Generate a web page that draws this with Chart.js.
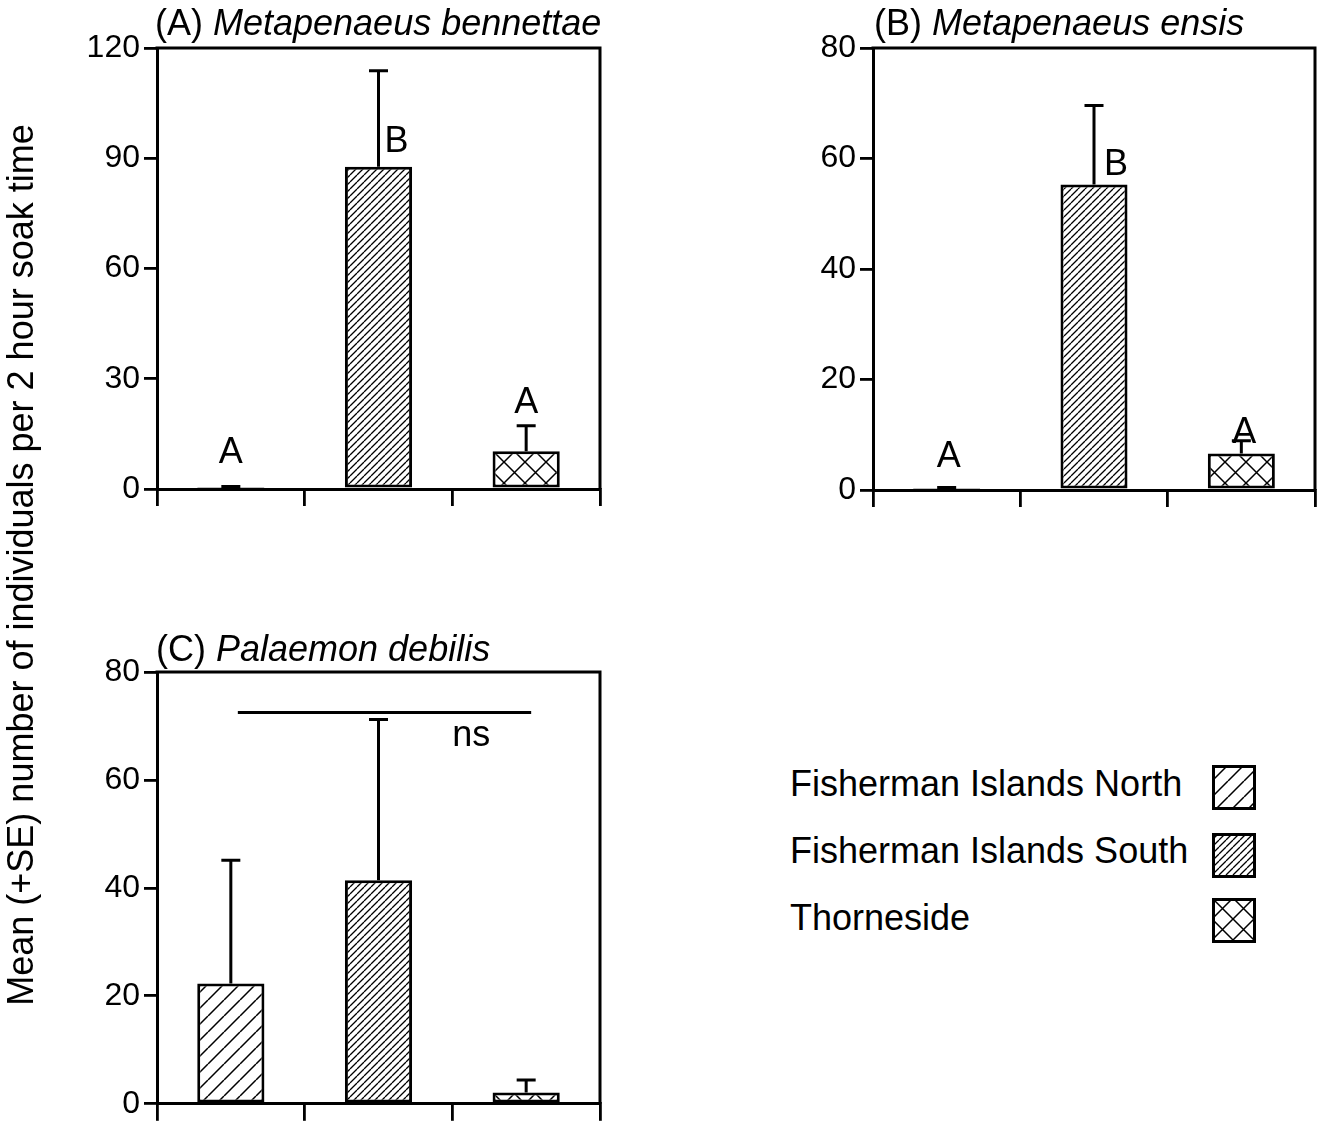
<!DOCTYPE html>
<html>
<head>
<meta charset="utf-8">
<script src="https://cdn.jsdelivr.net/npm/chart.js@4/dist/chart.umd.min.js"></script>
<style>
  html, body { margin: 0; padding: 0; background: #fff; }
  #fig { position: relative; width: 1322px; height: 1127px; overflow: hidden; background: #fff;
         font-family: 'Liberation Sans', Arial, Helvetica, sans-serif; color: #000; }
  #fig canvas.chart { position: absolute; }
  .txt { position: absolute; font-size: 36px; line-height: 36px; white-space: nowrap; }
  .ytitle { position: absolute; width: 900px; height: 36px; font-size: 36px; line-height: 36px;
            text-align: center; white-space: nowrap; transform: rotate(-90deg); transform-origin: 50% 50%; }
  .patch { position: absolute; }
</style>
</head>
<body>
<div id="fig">
  <canvas class="chart" id="chartA" width="620" height="530" style="left:0px;top:0px"></canvas>
  <canvas class="chart" id="chartB" width="622" height="530" style="left:700px;top:0px"></canvas>
  <canvas class="chart" id="chartC" width="620" height="527" style="left:0px;top:600px"></canvas>

  <div class="txt" style="left:155px;top:5px">(A) <i>Metapenaeus bennettae</i></div>
  <div class="txt" style="left:874px;top:5px">(B) <i>Metapenaeus ensis</i></div>
  <div class="txt" style="left:156px;top:631px">(C) <i>Palaemon debilis</i></div>

  <div class="ytitle" style="left:-429px;top:547px">Mean (+SE) number of individuals per 2 hour soak time</div>

  <div id="legend"></div>
</div>

<script>
// Sites (x categories, shared by all three panels)
const sites = ['Fisherman Islands North', 'Fisherman Islands South', 'Thorneside'];

// (A) Metapenaeus bennettae
const bennettaeMean = [0.3, 87.7, 10.3];
const bennettaeSE = [0.4, 26.1, 6.9];
const bennettaeLetters = ['A', 'B', 'A'];
const bennettaeTicks = [0, 30, 60, 90, 120];

// (B) Metapenaeus ensis
const ensisMean = [0.2, 55.3, 6.6];
const ensisSE = [0.25, 14.3, 2.3];
const ensisLetters = ['A', 'B', 'A'];
const ensisTicks = [0, 20, 40, 60, 80];

// (C) Palaemon debilis
const debilisMean = [22.3, 41.4, 2.1];
const debilisSE = [22.8, 29.8, 2.3];
const debilisNote = 'ns';
const debilisNsLevel = 72.5;
const debilisTicks = [0, 20, 40, 60, 80];

const FONT = "'Liberation Sans', Arial, Helvetica, sans-serif";

// Hatch fills: sparse '/', dense '/', and diagonal cross-hatch
function makeTile(kind) {
  const s = kind === 'sparse' ? 16 : kind === 'dense' ? 7 : 21;
  const c = document.createElement('canvas');
  c.width = s; c.height = s;
  const g = c.getContext('2d');
  g.fillStyle = '#fff';
  g.fillRect(0, 0, s, s);
  g.strokeStyle = '#000';
  g.lineWidth = kind === 'dense' ? 1.3 : 1.5;
  g.beginPath();
  for (const k of [-s, 0, s]) { g.moveTo(k, s); g.lineTo(k + s, 0); }
  if (kind === 'cross') {
    for (const k of [-s, 0, s]) { g.moveTo(k, 0); g.lineTo(k + s, s); }
  }
  g.stroke();
  return c;
}
const tileCtx = document.createElement('canvas').getContext('2d');
const fills = ['sparse', 'dense', 'cross'].map(k => tileCtx.createPattern(makeTile(k), 'repeat'));

// Error bars, frame and annotation text
const panelExtras = {
  id: 'panelExtras',
  afterDatasetsDraw(chart, args, opts) {
    const { ctx, scales: { x, y } } = chart;
    const ds = chart.data.datasets[0];
    const meta = chart.getDatasetMeta(0);
    ctx.save();
    ctx.strokeStyle = '#000';
    ctx.lineWidth = 3;
    ctx.lineCap = 'butt';
    meta.data.forEach((bar, i) => {
      const v = ds.data[i];
      const yb = y.getPixelForValue(v);
      const ye = y.getPixelForValue(v + opts.errors[i]);
      ctx.beginPath();
      ctx.moveTo(bar.x, yb);
      ctx.lineTo(bar.x, ye);
      ctx.moveTo(bar.x - 9.5, ye);
      ctx.lineTo(bar.x + 9.5, ye);
      ctx.stroke();
    });
    if (opts.bracket) {
      const b = opts.bracket;
      const yl = y.getPixelForValue(b.level);
      ctx.lineWidth = 3;
      ctx.beginPath();
      ctx.moveTo(x.getPixelForValue(b.from) + b.dx0, yl);
      ctx.lineTo(x.getPixelForValue(b.to) + b.dx1, yl);
      ctx.stroke();
    }
    ctx.fillStyle = '#000';
    ctx.font = '36px ' + FONT;
    ctx.textAlign = 'center';
    ctx.textBaseline = 'alphabetic';
    opts.notes.forEach(n => {
      ctx.fillText(n.text, x.getPixelForValue(n.i) + n.dx, y.getPixelForValue(n.y));
    });
    ctx.restore();
  },
  afterDraw(chart) {
    const { ctx, chartArea: a } = chart;
    ctx.save();
    ctx.strokeStyle = '#000';
    ctx.lineWidth = 3;
    ctx.beginPath();
    ctx.moveTo(a.left - 1.5, a.top);
    ctx.lineTo(a.right, a.top);
    ctx.lineTo(a.right, a.bottom);
    ctx.stroke();
    ctx.restore();
  }
};

function buildPanel(cfg) {
  const t = cfg.ticks;
  return new Chart(document.getElementById(cfg.id), {
    type: 'bar',
    data: {
      labels: sites,
      datasets: [{
        data: cfg.means,
        backgroundColor: fills,
        borderColor: '#000',
        borderWidth: 3,
        borderSkipped: false,
        barPercentage: 0.455,
        categoryPercentage: 1.0
      }]
    },
    options: {
      responsive: false,
      animation: false,
      devicePixelRatio: 1,
      layout: { padding: { top: cfg.padTop, right: cfg.padRight, left: 0, bottom: 0 } },
      plugins: {
        legend: { display: false },
        tooltip: { enabled: false },
        title: { display: false },
        panelExtras: { errors: cfg.errors, notes: cfg.notes, bracket: cfg.bracket || null }
      },
      scales: {
        x: {
          type: 'category',
          offset: true,
          grid: { offset: true, drawOnChartArea: false, drawTicks: true, tickLength: 17,
                  tickWidth: 2.8, tickColor: '#000', color: '#000', lineWidth: 2.8 },
          border: { display: true, color: '#000', width: 3 },
          ticks: { display: false },
          afterFit: s => { s.height = cfg.xHeight; }
        },
        y: {
          min: t[0],
          max: t[t.length - 1],
          afterBuildTicks: s => { s.ticks = t.map(v => ({ value: v })); },
          grid: { drawOnChartArea: false, drawTicks: true, tickLength: 13,
                  tickWidth: 2.8, tickColor: '#000', color: '#000', lineWidth: 2.8 },
          border: { display: true, color: '#000', width: 3 },
          ticks: { color: '#000', padding: 4, font: { family: FONT, size: 32 } },
          afterFit: s => { s.width = cfg.yWidth; }
        }
      }
    },
    plugins: [panelExtras]
  });
}

buildPanel({
  id: 'chartA', means: bennettaeMean, errors: bennettaeSE, ticks: bennettaeTicks,
  yWidth: 157, xHeight: 41, padTop: 48, padRight: 20,
  notes: [
    { text: bennettaeLetters[0], i: 0, dx: 0, y: 7.1 },
    { text: bennettaeLetters[1], i: 1, dx: 18, y: 91.7 },
    { text: bennettaeLetters[2], i: 2, dx: 0, y: 20.7 }
  ]
});

buildPanel({
  id: 'chartB', means: ensisMean, errors: ensisSE, ticks: ensisTicks,
  yWidth: 173, xHeight: 40, padTop: 48, padRight: 7,
  notes: [
    { text: ensisLetters[0], i: 0, dx: 2, y: 4.2 },
    { text: ensisLetters[1], i: 1, dx: 22, y: 57.0 },
    { text: ensisLetters[2], i: 2, dx: 3, y: 8.5 }
  ]
});

buildPanel({
  id: 'chartC', means: debilisMean, errors: debilisSE, ticks: debilisTicks,
  yWidth: 157, xHeight: 14, padTop: 72, padRight: 20,
  notes: [ { text: debilisNote, i: 2, dx: -55, y: 66.2 } ],
  bracket: { from: 0, to: 2, level: debilisNsLevel, dx0: 7, dx1: 5 }
});

// Legend: site names with hatch swatches on the right
const legend = document.getElementById('legend');
const rowTops = [766, 833, 900];
const patchTops = [765, 833, 898];
sites.forEach((name, i) => {
  const label = document.createElement('div');
  label.className = 'txt';
  label.style.left = '790px';
  label.style.top = rowTops[i] + 'px';
  label.textContent = name;
  legend.appendChild(label);

  const sw = document.createElement('canvas');
  sw.className = 'patch';
  sw.width = 44; sw.height = 45;
  sw.style.left = '1212px';
  sw.style.top = patchTops[i] + 'px';
  const g = sw.getContext('2d');
  g.fillStyle = fills[i];
  g.fillRect(0, 0, 44, 45);
  g.strokeStyle = '#000';
  g.lineWidth = 3;
  g.strokeRect(1.5, 1.5, 41, 42);
  legend.appendChild(sw);
});
</script>
</body>
</html>
